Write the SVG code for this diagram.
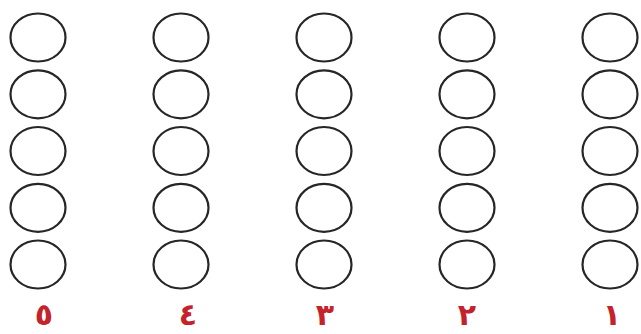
<svg xmlns="http://www.w3.org/2000/svg" width="641" height="334" viewBox="0 0 641 334">
<style>
.c{fill:none;stroke:#262626;stroke-width:2.2}
.n{font-family:"DejaVu Sans",sans-serif;font-weight:bold;font-size:30px;fill:#c4232b;text-anchor:middle}
</style>
<defs><ellipse id="e" cx="0" cy="0" rx="27.5" ry="24" class="c"/></defs>
<rect width="641" height="334" fill="#fff"/>
<g id="col5">
<use href="#e" x="38" y="37.5"/><use href="#e" x="38" y="94.3"/><use href="#e" x="38" y="151"/><use href="#e" x="38" y="207.8"/><use href="#e" x="38" y="264.5"/>
<text class="n" x="44" y="325">٥</text>
</g>
<g id="col4">
<use href="#e" x="181" y="37.5"/><use href="#e" x="181" y="94.3"/><use href="#e" x="181" y="151"/><use href="#e" x="181" y="207.8"/><use href="#e" x="181" y="264.5"/>
<text class="n" x="188" y="325">٤</text>
</g>
<g id="col3">
<use href="#e" x="324" y="37.5"/><use href="#e" x="324" y="94.3"/><use href="#e" x="324" y="151"/><use href="#e" x="324" y="207.8"/><use href="#e" x="324" y="264.5"/>
<text class="n" x="325" y="325">٣</text>
</g>
<g id="col2">
<use href="#e" x="467" y="37.5"/><use href="#e" x="467" y="94.3"/><use href="#e" x="467" y="151"/><use href="#e" x="467" y="207.8"/><use href="#e" x="467" y="264.5"/>
<text class="n" x="467" y="325">٢</text>
</g>
<g id="col1">
<use href="#e" x="610" y="37.5"/><use href="#e" x="610" y="94.3"/><use href="#e" x="610" y="151"/><use href="#e" x="610" y="207.8"/><use href="#e" x="610" y="264.5"/>
<text class="n" x="612" y="325">١</text>
</g>
<g id="connectors"/>
</svg>
